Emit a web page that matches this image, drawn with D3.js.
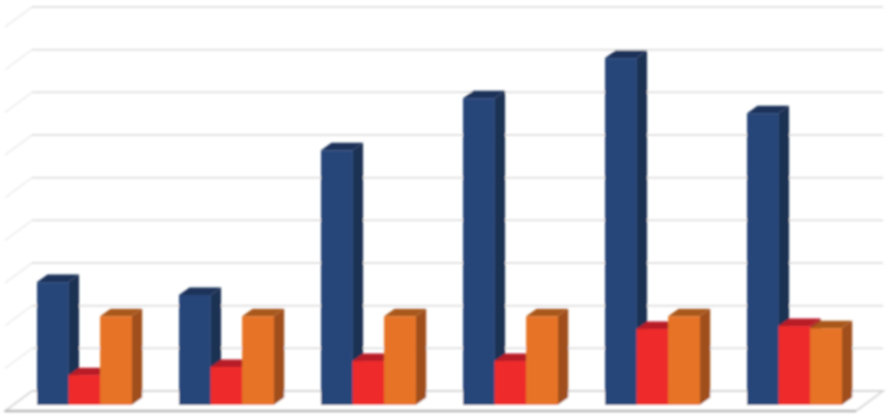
<!DOCTYPE html>
<html>
<head>
<meta charset="utf-8">
<script src="https://cdn.jsdelivr.net/npm/d3@7"></script>
<style>
html,body{margin:0;padding:0;background:#fff;overflow:hidden}
svg{display:block}
</style>
</head>
<body>
<svg id="chart" width="890" height="416"></svg>
<script>
const categories = ["A","B","C","D","E","F"];
const seriesNames = ["blue","red","orange"];
const blueValues = [28.8,25.8,59.7,71.9,81.3,68.4];
const redValues = [7.0,8.9,10.3,10.3,17.8,18.5];
const orangeValues = [20.8,20.8,20.8,20.8,20.8,18.0];
const gridTicks = [0,10,20,30,40,50,60,70,80,90];
const frontColors = ["#264478","#ee2a2c","#e67326"];
const sideColors = ["#1c3253","#a51f22","#a04f1a"];
const topColors = ["#1b3159","#b81c25","#a9591b"];

const values = [blueValues, redValues, orangeValues];
const svg = d3.select("#chart");
const root = svg.append("g").attr("filter","url(#soft)");
svg.append("defs").append("filter").attr("id","soft")
  .attr("x","-5%").attr("y","-5%").attr("width","110%").attr("height","110%")
  .append("feGaussianBlur").attr("stdDeviation",0.8);

const y = d3.scaleLinear().domain([0,90]).range([405,21]);
const x0 = d3.scaleBand().domain(categories).range([37,841.7]).paddingInner(1/3).paddingOuter(0);
const x1 = d3.scaleBand().domain(seriesNames).range([0,x0.bandwidth()]);

const backDy = -14, wallX = 32, wallRight = 883, wallDx = -27, wallDy = 20;
const depthX = 10.5, depthY = -7.5;

const grid = root.append("g");
grid.selectAll("line.h").data(gridTicks.slice(1)).join("line").attr("class","h")
  .attr("x1",wallX).attr("x2",wallRight)
  .attr("y1",d=>y(d)+backDy).attr("y2",d=>y(d)+backDy)
  .attr("stroke","#e2e2e2").attr("stroke-width",2);
grid.selectAll("line.d").data(gridTicks.slice(1)).join("line").attr("class","d")
  .attr("x1",wallX).attr("x2",wallX+wallDx)
  .attr("y1",d=>y(d)+backDy).attr("y2",d=>y(d)+backDy+wallDy)
  .attr("stroke","#ededed").attr("stroke-width",1.6);

const fy = y(0)+backDy;
grid.append("path")
  .attr("d",d3.line()([[wallX,fy],[wallRight,fy],[wallRight+wallDx,fy+wallDy],[wallX+wallDx,fy+wallDy],[wallX,fy]]))
  .attr("fill","#fff").attr("stroke","#d6d6d6").attr("stroke-width",1.8);
grid.append("line")
  .attr("x1",wallX+wallDx).attr("x2",wallRight+wallDx)
  .attr("y1",fy+wallDy).attr("y2",fy+wallDy)
  .attr("stroke","#b8b8b8").attr("stroke-width",2.4);

const groups = root.selectAll("g.grp").data(categories).join("g")
  .attr("class","grp").attr("transform",d=>`translate(${x0(d)},0)`);

groups.each(function(cat,ci){
  const g = d3.select(this);
  seriesNames.forEach((s,si)=>{
    const v = values[si][ci];
    const l = x1(s), r = l+x1.bandwidth(), t = y(v), b = y(0);
    g.append("path")
      .attr("d",d3.line()([[r,t],[r+depthX,t+depthY],[r+depthX,b+depthY],[r,b]]))
      .attr("fill",sideColors[si]);
    g.append("path")
      .attr("d",d3.line()([[l,t],[l+depthX,t+depthY],[r+depthX,t+depthY],[r,t]]))
      .attr("fill",topColors[si]);
    g.append("rect")
      .attr("x",l).attr("y",t).attr("width",x1.bandwidth()+0.3).attr("height",b-t)
      .attr("fill",frontColors[si]);
  });
});
</script>
</body>
</html>
